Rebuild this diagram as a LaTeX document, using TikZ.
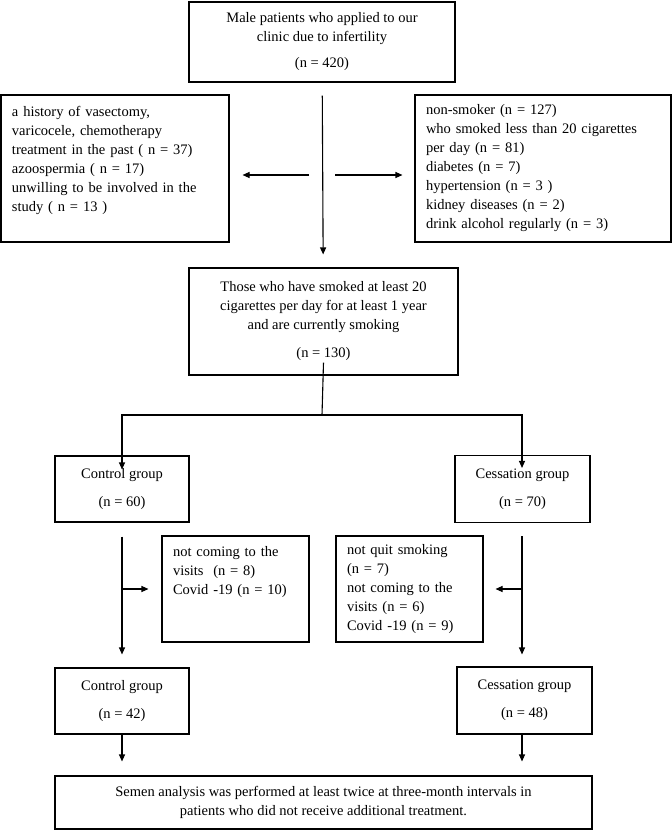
\documentclass[tikz,border=0pt]{standalone}
\usepackage{fontspec}
\setmainfont{Liberation Serif}
\usetikzlibrary{arrows.meta}
\newcommand\flowfont{\fontsize{14.5}{19}\selectfont}

\begin{document}
\begin{tikzpicture}[x=1pt,y=-1pt,
box/.style={draw,line width=1.1pt,inner sep=0pt,align=center,font=\flowfont},
lbox/.style={box,align=left},
line/.style={line width=1.1pt},
arr/.style={line width=1.1pt,-{Triangle[length=7pt,width=6pt]}}]
    \useasboundingbox (0,0) rectangle (672,831);
    % boxes
    \node [box,minimum width=266pt,minimum height=80pt] (male) at (322,42)
      {Male patients who applied to our\\clinic due to infertility\\[7pt](n = 420)};
    \node [lbox,minimum width=228pt,minimum height=147pt,text width=206pt] (excl) at (115,168.5)
      {a history of vasectomy,\\varicocele, chemotherapy\\treatment in the past ( n = 37)\\azoospermia ( n = 17)\\unwilling to be involved in the\\study ( n = 13 )\\~};
    \node [lbox,minimum width=256pt,minimum height=147pt,text width=234pt] (other) at (543,168.5)
      {non-smoker (n = 127)\\who smoked less than 20 cigarettes\\per day (n = 81)\\diabetes (n = 7)\\hypertension (n = 3 )\\kidney diseases (n = 2)\\drink alcohol regularly (n = 3)};
    \node [box,minimum width=269pt,minimum height=107pt] (smokers) at (323.5,321.5)
      {Those who have smoked at least 20\\cigarettes per day for at least 1 year\\and are currently smoking\\[9pt](n = 130)};
    \node [box,minimum width=134pt,minimum height=66pt] (ctl) at (122,489)
      {Control group\\[9pt](n = 60)};
    \node [box,minimum width=135pt,minimum height=67pt] (ces) at (522.5,489)
      {Cessation group\\[9pt](n = 70)};
    \node [lbox,minimum width=147pt,minimum height=106pt,text width=125pt] (lossctl) at (235.5,589)
      {not coming to the\\visits~ (n = 8)\\Covid -19 (n = 10)\\~\\~};
    \node [lbox,minimum width=147pt,minimum height=106pt,text width=125pt] (lossces) at (409.5,589)
      {not quit smoking\\(n = 7)\\not coming to the\\visits (n = 6)\\Covid -19 (n = 9)};
    \node [box,minimum width=134pt,minimum height=66pt] (ctlend) at (122,701)
      {Control group\\[9pt](n = 42)};
    \node [box,minimum width=135pt,minimum height=67pt] (cesend) at (524.5,700.5)
      {Cessation group\\[9pt](n = 48)};
    \node [box,minimum width=537pt,minimum height=53pt] (semen) at (323.5,802.5)
      {Semen analysis was performed at least twice at three-month intervals in\\patients who did not receive additional treatment.};
    % connectors
    \coordinate (exl) at (309,175);
    \coordinate (exr) at (335,175);
    \coordinate (split) at (322,415);
    \coordinate (ctlfork) at (122,589);
    \coordinate (cesfork) at (522,589);
    \draw [arr,shorten <=13pt,shorten >=13pt] (male) -- (smokers);
    \draw [arr,shorten >=13pt] (exl) -- (exl -| excl.east);
    \draw [arr,shorten >=12pt] (exr) -- (exr -| other.west);
    \draw [line] ([yshift=13pt]smokers.south) -- (split);
    \draw [arr] (split) -| ([yshift=-14pt]ctl.north);
    \draw [arr] (split) -| ([yshift=-13pt]ces.north -| cesfork);
    \draw [arr,shorten <=14pt,shorten >=13pt] (ctl.south) -- (ctlend.north);
    \draw [arr,shorten <=13pt,shorten >=12pt] (ces.south -| cesfork) -- (cesend.north -| cesfork);
    \draw [arr,shorten >=13pt] (ctlfork) -- (lossctl.west);
    \draw [arr,shorten >=12pt] (cesfork) -- (lossces.east);
    \draw [arr,shorten >=14pt] (ctlend.south) -- (ctlend.south |- semen.north);
    \draw [arr,shorten >=14pt] (cesend.south -| cesfork) -- (cesfork |- semen.north);
\end{tikzpicture}
\end{document}
